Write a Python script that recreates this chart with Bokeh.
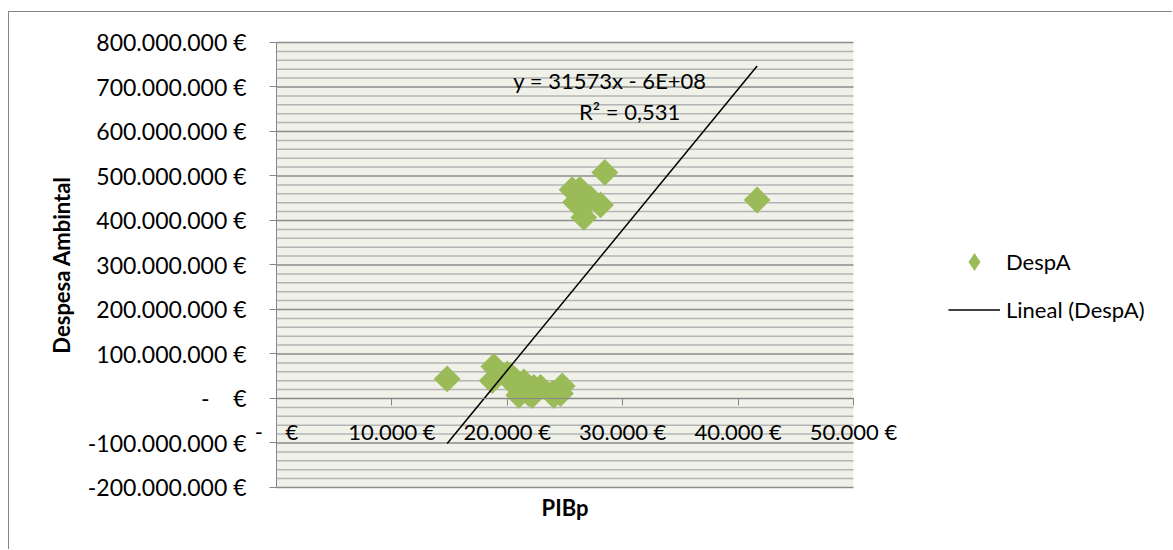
import numpy as np
from bokeh.plotting import figure
from bokeh.models import FixedTicker, Legend, LegendItem, Label, Range1d
from bokeh.embed import file_html
from bokeh.resources import INLINE

# ---- data ----
pib = [14790, 18830, 18690, 19990, 20280, 20560, 21430, 21140, 21000, 21860,
       22160, 22300, 22880, 23890, 24030, 24760, 24610,
       25620, 26280, 25910, 26520, 27210, 28080, 26630, 28450, 41650]
desp = [44e6, 72e6, 40e6, 55e6, 52e6, 33e6, 37e6, 11e6, 7e6, 11e6,
        7e6, 25e6, 25e6, 11e6, 7e6, 28e6, 11e6,
        469e6, 470e6, 441e6, 454e6, 449e6, 435e6, 407e6, 508e6, 446e6]

x_ticks = [0, 10000, 20000, 30000, 40000, 50000]
x_tick_labels = ["-\u00a0\u00a0\u00a0\u00a0€", "10.000 €", "20.000 €", "30.000 €", "40.000 €", "50.000 €"]
y_ticks = [-200000000, -100000000, 0, 100000000, 200000000, 300000000,
           400000000, 500000000, 600000000, 700000000, 800000000]
y_tick_labels = ["-200.000.000 €", "-100.000.000 €", "-\u00a0\u00a0\u00a0\u00a0€", "100.000.000 €",
                 "200.000.000 €", "300.000.000 €", "400.000.000 €", "500.000.000 €",
                 "600.000.000 €", "700.000.000 €", "800.000.000 €"]
y_minor_step = 20000000

trend_slope = 31573
trend_intercept = -5.68e8
eq_text = "y = 31573x - 6E+08"
r2_text = "R\u00b2 = 0,531"
series_name = "DespA"
trend_name = "Lineal (DespA)"

FONT = "Lato"
FS = "22px"
GREEN = "#9BBB59"

# whole canvas is the frame; plot area is drawn inside it
p = figure(width=1164, height=538, output_backend="svg", toolbar_location=None, title=None,
           x_range=Range1d(-23137, 77730), y_range=Range1d(-341.6e6, 867.4e6),
           min_border=0, min_border_left=0, min_border_right=0, min_border_top=0, min_border_bottom=0,
           background_fill_color="white", border_fill_color="white", outline_line_color=None)
p.styles = {"margin-left": "8px", "margin-top": "11px",
            "border-left": "1px solid #868686", "border-top": "1px solid #868686"}
p.grid.visible = False

x0, x1 = x_ticks[0], x_ticks[-1]
y0, y1 = y_ticks[0], y_ticks[-1]

# plot area background
p.quad(left=[x0], right=[x1], bottom=[y0], top=[y1], fill_color="#F0F2EA", line_color=None)

# gridlines
minor_y = [v for v in range(y0, y1 + 1, y_minor_step) if v not in y_ticks]
p.segment(x0=[x0] * len(minor_y), x1=[x1] * len(minor_y), y0=minor_y, y1=minor_y,
          line_color="#B4B4B4", line_width=1.5)
p.segment(x0=[x0] * len(y_ticks), x1=[x1] * len(y_ticks), y0=y_ticks, y1=y_ticks,
          line_color="#8C8C8C", line_width=1.5)

# y axis at x = 0
ya = p.yaxis[0]
ya.fixed_location = 0
ya.bounds = (y0, y1)
ya.ticker = FixedTicker(ticks=y_ticks)
ya.major_label_overrides = dict(zip(y_ticks, y_tick_labels))
ya.axis_line_color = "#868686"
ya.major_tick_line_color = "#868686"
ya.major_tick_in = 0
ya.major_tick_out = 7
ya.minor_tick_in = 0
ya.minor_tick_out = 0
ya.major_label_standoff = 23
ya.major_label_text_font = FONT
ya.major_label_text_font_size = "23px"
ya.major_label_text_color = "black"
ya.axis_label = "Despesa Ambintal"
ya.axis_label_text_font = FONT
ya.axis_label_text_font_style = "bold"
ya.axis_label_text_font_size = FS
ya.axis_label_text_color = "black"
ya.axis_label_standoff = 10

# x axis at y = 0
xa = p.xaxis[0]
xa.fixed_location = 0
xa.bounds = (x0, x1)
xa.ticker = FixedTicker(ticks=x_ticks)
xa.major_label_overrides = dict(zip(x_ticks, x_tick_labels))
xa.axis_line_color = "#868686"
xa.major_tick_line_color = "#868686"
xa.major_tick_in = 0
xa.major_tick_out = 7
xa.minor_tick_in = 0
xa.minor_tick_out = 0
xa.major_label_standoff = 13
xa.major_label_text_font = FONT
xa.major_label_text_font_size = FS
xa.major_label_text_color = "black"
xa.axis_label = "PIBp"
xa.axis_label_text_font = FONT
xa.axis_label_text_font_style = "bold"
xa.axis_label_text_font_size = FS
xa.axis_label_text_color = "black"
xa.axis_label_standoff = 45

# series (diamonds = squares turned by 45 degrees)
sc = p.scatter(pib, desp, marker="square", angle=np.pi / 4, size=19,
               fill_color=GREEN, line_color=None)
# legend swatch for the series (legend glyphs are drawn unrotated) -> custom square diamond
try:
    sc_key = p.scatter(pib, desp, marker="@sqdiamond",
                       defs={"@sqdiamond": "M 0 -0.5 L 0.5 0 L 0 0.5 L -0.5 0 Z"},
                       size=19, fill_color=GREEN, line_color=None, visible=False)
except Exception:
    sc_key = p.scatter(pib, desp, marker="diamond", size=19, fill_color=GREEN,
                       line_color=None, visible=False)
tx = np.array([min(pib), max(pib)], dtype=float)
ln = p.line(tx, trend_slope * tx + trend_intercept, line_color="black", line_width=1.5)

# trendline equation
p.add_layout(Label(x=28900, y=714e6, text=eq_text, text_align="center", text_baseline="middle",
                   text_font=FONT, text_font_size=FS, text_color="black"))
p.add_layout(Label(x=30600, y=645e6, text=r2_text, text_align="center", text_baseline="middle",
                   text_font=FONT, text_font_size=FS, text_color="black"))

legend = Legend(items=[LegendItem(label=series_name, renderers=[sc_key]),
                       LegendItem(label=trend_name, renderers=[ln])],
                location=(939, 218), padding=0, margin=0, spacing=3,
                glyph_width=52, glyph_height=45, label_height=45, label_standoff=6,
                border_line_color=None, background_fill_alpha=0,
                label_text_font=FONT, label_text_font_size=FS, label_text_color="black")
p.add_layout(legend, "center")

open("out.html", "w").write(file_html(p, INLINE))
